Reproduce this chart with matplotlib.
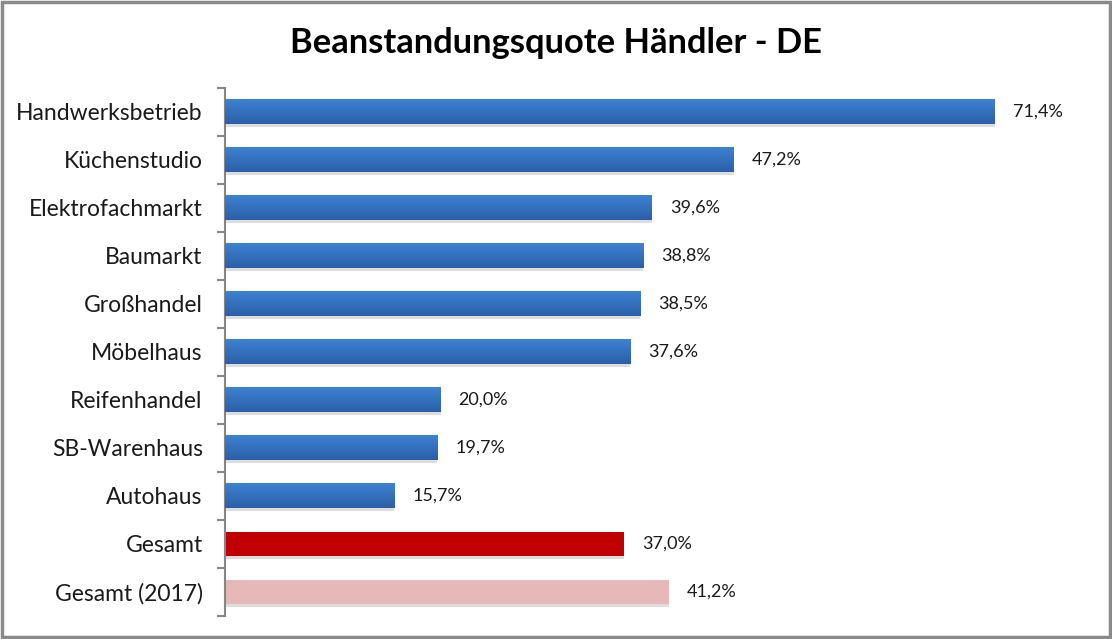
import numpy as np
import matplotlib.pyplot as plt
from matplotlib.patches import Rectangle
from matplotlib.colors import LinearSegmentedColormap

# data
categories = ['Handwerksbetrieb', 'Küchenstudio', 'Elektrofachmarkt', 'Baumarkt',
              'Großhandel', 'Möbelhaus', 'Reifenhandel', 'SB-Warenhaus', 'Autohaus',
              'Gesamt', 'Gesamt (2017)']
values = [71.4, 47.2, 39.6, 38.8, 38.5, 37.6, 20.0, 19.7, 15.7, 37.0, 41.2]
value_labels = ['71,4%', '47,2%', '39,6%', '38,8%', '38,5%', '37,6%', '20,0%',
                '19,7%', '15,7%', '37,0%', '41,2%']

plt.rcParams['font.family'] = ['Lato', 'DejaVu Sans']

fig = plt.figure(figsize=(11.12, 6.39), dpi=100)
ax = fig.add_axes([0.2023, 0.036, 0.7757, 0.8267])

y = np.arange(len(categories))
colors = ['#3572c2'] * 9 + ['#c00000', '#e6b8b7']
h = 0.5

# soft shadow under the bars
for yi, v in zip(y, values):
    ax.add_patch(Rectangle((0, yi - h / 2 + 0.06), v, h, color='#a0a0a0',
                           alpha=0.35, zorder=1, lw=0))

bars = ax.barh(y, values, height=h, color=colors, zorder=2)

# gradient on blue bars
grad = np.linspace(0, 1, 64).reshape(-1, 1)
cmap = LinearSegmentedColormap.from_list('b', ['#3d82d4', '#2b5fa6'])
for b in bars[:9]:
    x0, y0 = b.get_x(), b.get_y()
    ax.imshow(grad, cmap=cmap, aspect='auto', zorder=3,
              extent=(x0, x0 + b.get_width(), y0 + b.get_height(), y0),
              origin='upper')

for b, lab in zip(bars, value_labels):
    ax.annotate(lab, (b.get_width(), b.get_y() + b.get_height() / 2),
                xytext=(13, 0), textcoords='offset points', va='center',
                ha='left', fontsize=13, color='#1a1a1a')

ax.set_xlim(0, 80)
ax.set_ylim(len(categories) - 0.5, -0.5)
ax.set_yticks(y)
ax.set_yticklabels(categories, fontsize=16.5, color='#1a1a1a')
ax.set_yticks(np.arange(-0.5, len(categories), 1), minor=True)
ax.tick_params(axis='y', which='major', length=0, pad=16)
ax.tick_params(axis='y', which='minor', length=6, width=1.5, color='#868686')
ax.set_xticks([])
for s in ['top', 'right', 'bottom']:
    ax.spines[s].set_visible(False)
ax.spines['left'].set_color('#868686')
ax.spines['left'].set_linewidth(1.5)

fig.text(0.5, 0.932, 'Beanstandungsquote Händler - DE', ha='center', va='center',
         fontsize=24.8, fontweight='bold', color='black')

# outer border
fig.add_artist(Rectangle((0.0015, 0.0025), 0.997, 0.995, transform=fig.transFigure,
                         fill=False, edgecolor='#8a8a8a', lw=2.5))

fig.savefig('out.png', dpi=100)
